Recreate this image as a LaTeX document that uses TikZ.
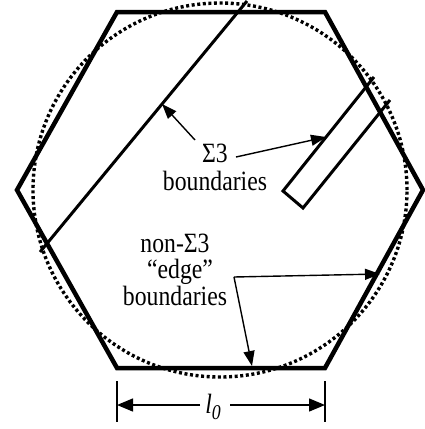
\documentclass[tikz,border=0pt]{standalone}
\usepackage{fontspec}
\setmainfont{Liberation Serif}[FakeStretch=0.85]
\usetikzlibrary{arrows.meta}
\tikzset{
  hexline/.style={line width=4.5bp, line join=miter},
  twinline/.style={line width=3bp, line join=miter},
  dotcircle/.style={line width=3.4bp, dash pattern=on 3bp off 2.6bp, black},
  pointer/.style={line width=1.4bp, -{Triangle[length=15bp,width=11bp]}},
  dimarrow/.style={line width=1.4bp, -{Triangle[length=16bp,width=13bp]}},
  tick/.style={line width=1.4bp},
  lbl/.style={inner sep=0pt, anchor=base, font=\fontsize{28}{28}\selectfont}
}
\begin{document}
\begin{tikzpicture}[x=1bp,y=-1bp]
\useasboundingbox (0,0) rectangle (425,429);
% hexagon vertices
\coordinate (h1) at (117,12);
\coordinate (h2) at (325,12);
\coordinate (h3) at (423,190);
\coordinate (h4) at (325,368);
\coordinate (h5) at (117,368);
\coordinate (h6) at (17,190);
\coordinate (cc) at (220,190);
% dotted circle
\draw[dotcircle] (cc) circle[radius=187bp];
% hexagon
\draw[hexline] (h1) -- (h2) -- (h3) -- (h4) -- (h5) -- (h6) -- cycle;
% long Sigma3 boundary
\coordinate (la) at (247,1);
\coordinate (lb) at (40,252);
\draw[twinline] (la) -- (lb);
% twin lamella
\coordinate (t1) at (374,77);
\coordinate (t2) at (283,191);
\coordinate (t3) at (303,208);
\coordinate (t4) at (390,100);
\draw[twinline] (t1) -- (t2) -- (t3) -- (t4);
% labels
\node[lbl] (s3) at (215,162) {Σ3};
\node[lbl] (sb) at (215,190) {boundaries};
\node[lbl] (n1) at (175,252) {non-Σ3};
\node[lbl] (n2) at (180,278) {“edge”};
\node[lbl] (n3) at (175,305) {boundaries};
\node[lbl] (l0) at (213,413) {\textit{l\raisebox{-0.22em}{\fontsize{21}{21}\selectfont 0}}};
% pointer arrows
\coordinate (a1s) at (195,140);
\coordinate (a1e) at (162,104);
\coordinate (a2s) at (236,157);
\coordinate (a2e) at (326,137);
\draw[pointer] (a1s) -- (a1e);
\draw[pointer] (a2s) -- (a2e);
\coordinate (j) at (234,277);
\coordinate (b1e) at (380,274);
\coordinate (b2e) at (252,366);
\draw[pointer] (j) -- (b1e);
\draw[pointer] (j) -- (b2e);
% dimension
\coordinate (d1t) at (117,381);
\coordinate (d1b) at (117,422);
\coordinate (d2t) at (325,381);
\coordinate (d2b) at (325,422);
\draw[tick] (d1t) -- (d1b);
\draw[tick] (d2t) -- (d2b);
\coordinate (dl) at (200,405);
\coordinate (dr) at (230,405);
\coordinate (dle) at (117,405);
\coordinate (dre) at (325,405);
\draw[dimarrow] (dl) -- (dle);
\draw[dimarrow] (dr) -- (dre);
\end{tikzpicture}
\end{document}
